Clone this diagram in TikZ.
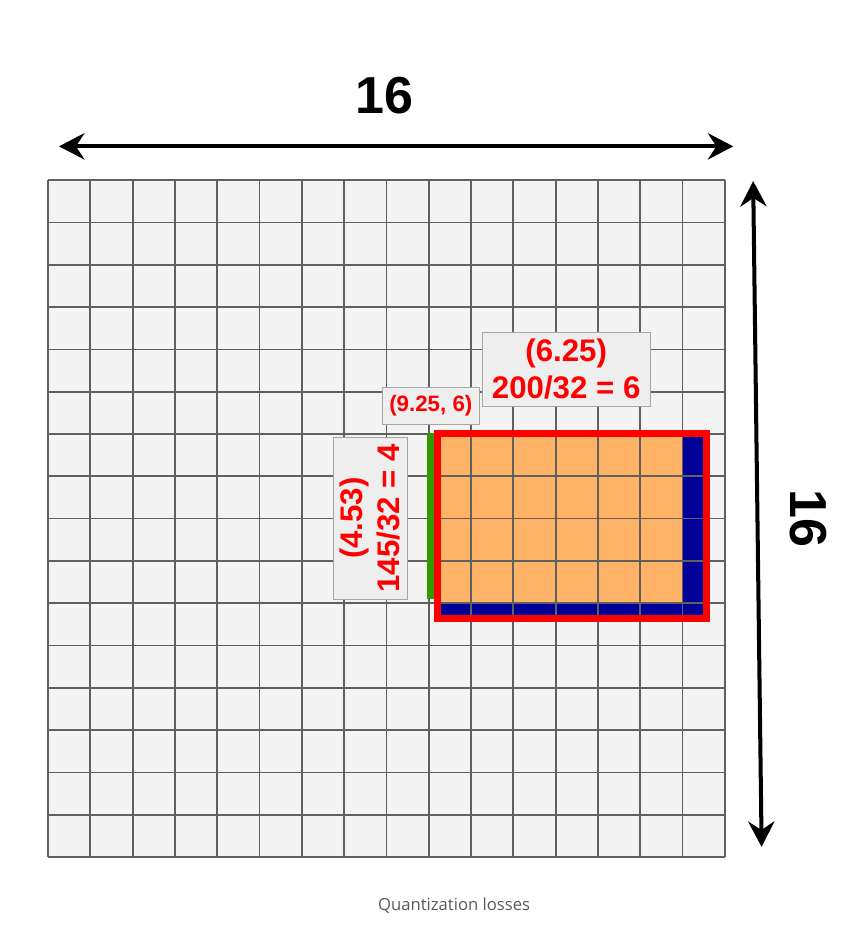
\documentclass[tikz,border=0pt]{standalone}
\usepackage{fontspec}
\setsansfont{Liberation Sans}
\newfontfamily\captionfont{Open Sans}
\usetikzlibrary{positioning,arrows.meta}
\definecolor{cellgray}{HTML}{F4F4F4}
\definecolor{linegray}{HTML}{606060}
\definecolor{boxgray}{HTML}{EEEEEE}
\definecolor{quantorange}{HTML}{FFB366}
\definecolor{lossblue}{HTML}{000099}
\definecolor{lossgreen}{HTML}{339900}
\definecolor{captiongray}{HTML}{595959}

\tikzset{
    gridline/.style={linegray, line width=1.2pt},
    dimarrow/.style={line width=2.7pt, {Stealth[length=0.6cm, width=0.62cm, inset=0.2cm]}-{Stealth[length=0.6cm, width=0.62cm, inset=0.2cm]}},
    dimlabel/.style={font=\sffamily\bfseries\fontsize{35}{40}\selectfont},
    valuebox/.style={draw=gray!70, fill=boxgray, line width=0.6pt, inner sep=0pt, align=center, text=red,
        font=\sffamily\bfseries\fontsize{21}{25}\selectfont},
}

\begin{document}
\begin{tikzpicture}[scale=1]

    \useasboundingbox (-1.135,-2.08) rectangle (19.10,20.26);

    % Draw cells
    \fill[cellgray] (0,0) rectangle (16,16);

    % Quantization losses
    \fill[lossblue] (9.2,5.64) rectangle (15.56,10);
    \fill[quantorange] (9.2,6) rectangle (15,10);

    % Draw grid
    \draw[gridline] (0,0) grid (16,16);

    % Lost strip
    \fill[lossgreen] (8.95,6.09) rectangle (9.16,10.03);

    % Real box
    \draw[red, line width=4.9pt] (9.21,10.02) rectangle (15.56,5.64);

    % Dimension arrows
    \coordinate (topleft) at (0.26,16.80);
    \coordinate (topright) at (16.20,16.80);
    \coordinate (sidetop) at (16.67,15.98);
    \coordinate (sidebottom) at (16.87,0.24);
    \draw[dimarrow] (topleft) -- (topright);
    \draw[dimarrow] (sidetop) -- (sidebottom);
    \node[dimlabel] (widthlabel) at (7.95,18.01) {16};
    \node[dimlabel, rotate=-90] (heightlabel) at (17.97,8.01) {16};

    % Value boxes
    \node[valuebox, minimum width=3.96cm, minimum height=1.74cm] (widthbox) at (12.25,11.53) {(6.25)\\200/32 = 6};
    \node[valuebox, minimum width=2.3cm, minimum height=0.865cm, font=\sffamily\bfseries\fontsize{15}{17}\selectfont] (cornerbox) at (9.05,10.66) {(9.25, 6)};
    \node[valuebox, minimum width=3.83cm, minimum height=1.76cm, rotate=90] (heightbox) at (7.62,8.01) {(4.53)\\145/32 = 4};

    % Caption
    \node[text=captiongray, font=\captionfont\fontsize{11.2}{13}\selectfont] (caption) at (9.6,-1.16) {Quantization losses};

\end{tikzpicture}
\end{document}
